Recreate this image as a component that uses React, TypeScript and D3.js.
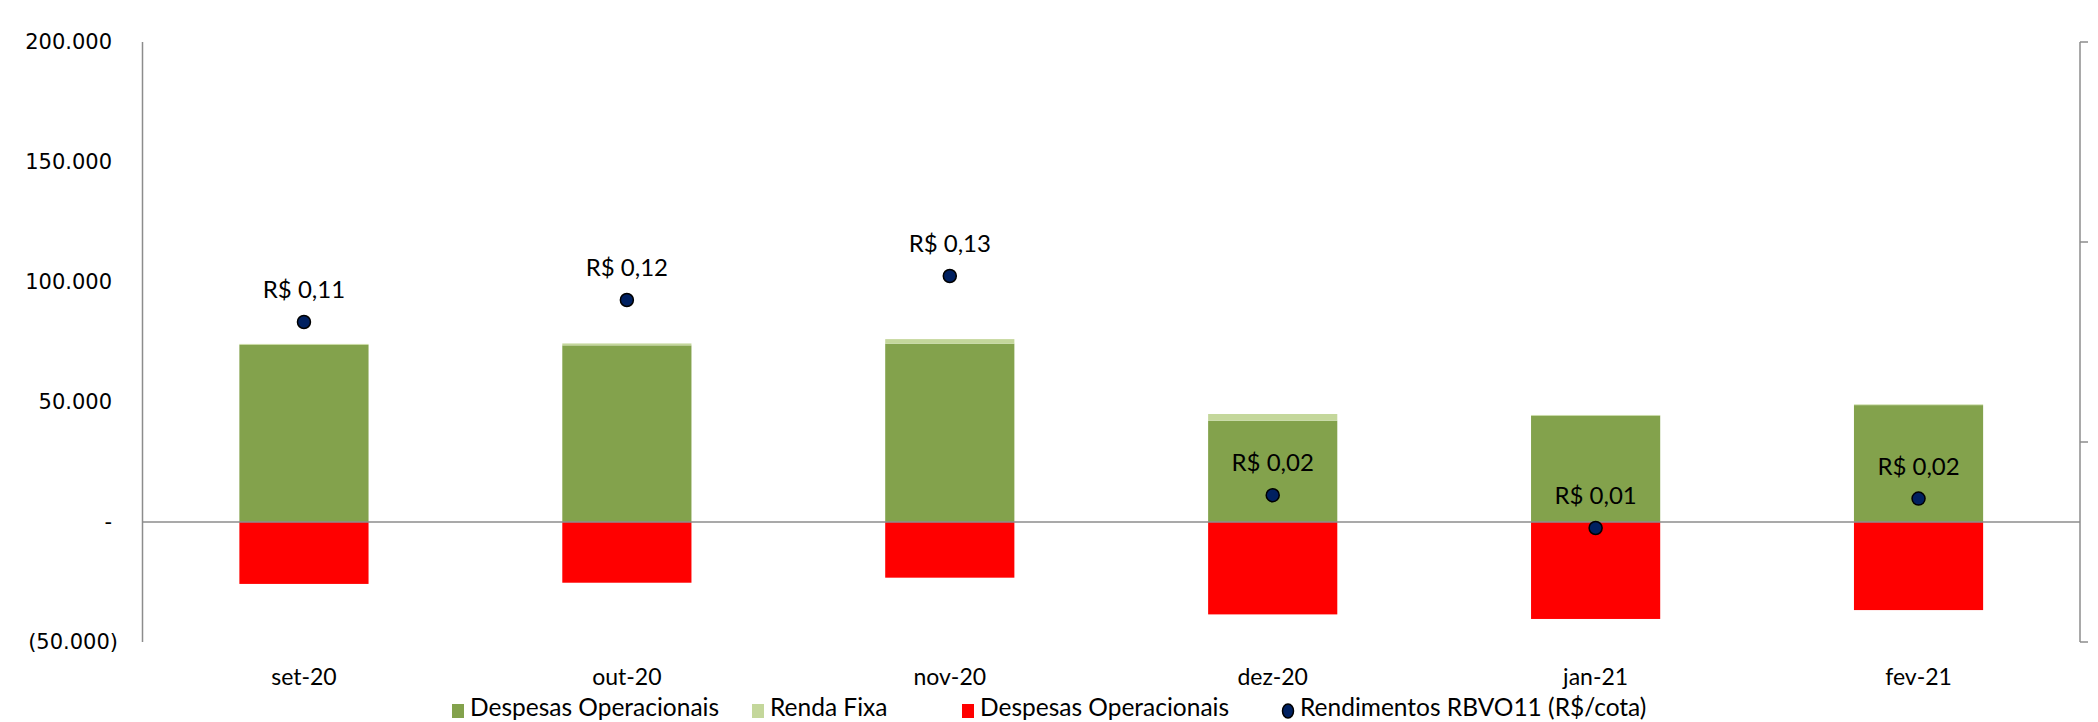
import React from "react";
import { scaleBand, scaleLinear, stack, formatLocale } from "d3";

// months on the x axis
const months = ["set-20", "out-20", "nov-20", "dez-20", "jan-21", "fev-21"];
// receita (green), renda fixa (light green) and despesas (red, negative)
const receitas = [73800, 73600, 74300, 42200, 44300, 48700];
const rendaFixa = [400, 800, 1900, 2800, 300, 300];
const despesas = [-25800, -25300, -23200, -38500, -40400, -36700];
// dividend per share, right axis
const rendimentos = [0.110, 0.121, 0.133, 0.0234, 0.007, 0.0217];
const leftTicks = [-50000, 0, 50000, 100000, 150000, 200000];
const rightTicks = [-0.05, 0.05, 0.15, 0.25];

const legendItems = [
  { label: "Despesas Operacionais", color: "#83A24C", kind: "rect", x: 452 },
  { label: "Renda Fixa", color: "#C4D79B", kind: "rect", x: 752 },
  { label: "Despesas Operacionais", color: "#FF0000", kind: "rect", x: 962 },
  { label: "Rendimentos RBVO11 (R$/cota)", color: "#002060", kind: "dot", x: 1282 },
];

const W = 2098;
const H = 722;
const margin = { left: 142.5, right: 18, top: 42, bottom: 80 };

const br = formatLocale({ decimal: ",", thousands: ".", grouping: [3], currency: ["R$ ", ""] });
const fmtInt = br.format(",.0f");
const fmtVal = br.format(".2f");

function leftLabel(v: number) {
  if (v === 0) return "-";
  if (v < 0) return `(${fmtInt(-v)})`;
  return fmtInt(v);
}

export default function App() {
  const x = scaleBand<string>()
    .domain(months)
    .range([margin.left, W - margin.right])
    .paddingInner(0.6)
    .paddingOuter(0.3);
  const y = scaleLinear().domain([-50000, 200000]).range([H - margin.bottom, margin.top]);
  const y2 = scaleLinear().domain([-0.05, 0.25]).range([H - margin.bottom, margin.top]);

  const rows = months.map((m, i) => ({ m, receitas: receitas[i], rendaFixa: rendaFixa[i] }));
  const series = stack<any>().keys(["receitas", "rendaFixa"])(rows);
  const stackColors = ["#83A24C", "#C4D79B"];

  const x0 = margin.left;
  const x1 = W - margin.right;
  const labelFont = "Lato, 'Open Sans', sans-serif";

  return (
    <svg width={W} height={H} style={{ position: "absolute", left: 0, top: 0, background: "#fff" }}>
      {/* stacked positive bars */}
      {series.map((s, si) => (
        <g key={si} fill={stackColors[si]}>
          {s.map((d, i) => (
            <rect key={i} x={x(months[i])} width={x.bandwidth()} y={y(d[1])} height={y(d[0]) - y(d[1])} />
          ))}
        </g>
      ))}
      {/* negative bars */}
      <g fill="#FF0000">
        {despesas.map((v, i) => (
          <rect key={i} x={x(months[i])} width={x.bandwidth()} y={y(0)} height={y(v) - y(0)} />
        ))}
      </g>

      {/* zero line */}
      <line x1={x0} x2={x1} y1={y(0)} y2={y(0)} stroke="#8C8C8C" strokeWidth={1.5} />
      {/* left axis */}
      <line x1={x0} x2={x0} y1={y(200000)} y2={y(-50000)} stroke="#8C8C8C" strokeWidth={1.5} />
      {leftTicks.map((t) => (
        <text key={t} x={t < 0 ? 118 : 112} y={y(t)} textAnchor="end" dominantBaseline="central"
          fontFamily="'DejaVu Sans', sans-serif" fontSize={21} fill="#000">
          {leftLabel(t)}
        </text>
      ))}
      {/* right axis */}
      <line x1={x1} x2={x1} y1={y2(0.25)} y2={y2(-0.05)} stroke="#8C8C8C" strokeWidth={1.5} />
      {rightTicks.map((t) => (
        <line key={t} x1={x1} x2={x1 + 8} y1={y2(t)} y2={y2(t)} stroke="#8C8C8C" strokeWidth={1.5} />
      ))}

      {/* category labels */}
      {months.map((m) => (
        <text key={m} x={x(m)! + x.bandwidth() / 2} y={685} textAnchor="middle"
          fontFamily={labelFont} fontSize={23} fill="#000">
          {m}
        </text>
      ))}

      {/* dots + labels */}
      {rendimentos.map((v, i) => {
        const cx = x(months[i])! + x.bandwidth() / 2;
        const cy = y2(v);
        return (
          <g key={i}>
            <circle cx={cx} cy={cy} r={6.5} fill="#002060" stroke="#000" strokeWidth={1.5} />
            <text x={cx} y={cy - 24} textAnchor="middle" fontFamily={labelFont} fontSize={24} fill="#000">
              {"R$ " + fmtVal(v)}
            </text>
          </g>
        );
      })}

      {/* legend */}
      {legendItems.map((d, i) => (
        <g key={i}>
          {d.kind === "rect" ? (
            <rect x={d.x} y={704} width={12} height={14} fill={d.color} />
          ) : (
            <ellipse cx={d.x + 6} cy={711} rx={5.5} ry={7} fill={d.color} stroke="#000" strokeWidth={1.5} />
          )}
          <text x={d.x + 18} y={716} fontFamily={labelFont} fontSize={24.5} fill="#000">
            {d.label}
          </text>
        </g>
      ))}
    </svg>
  );
}
